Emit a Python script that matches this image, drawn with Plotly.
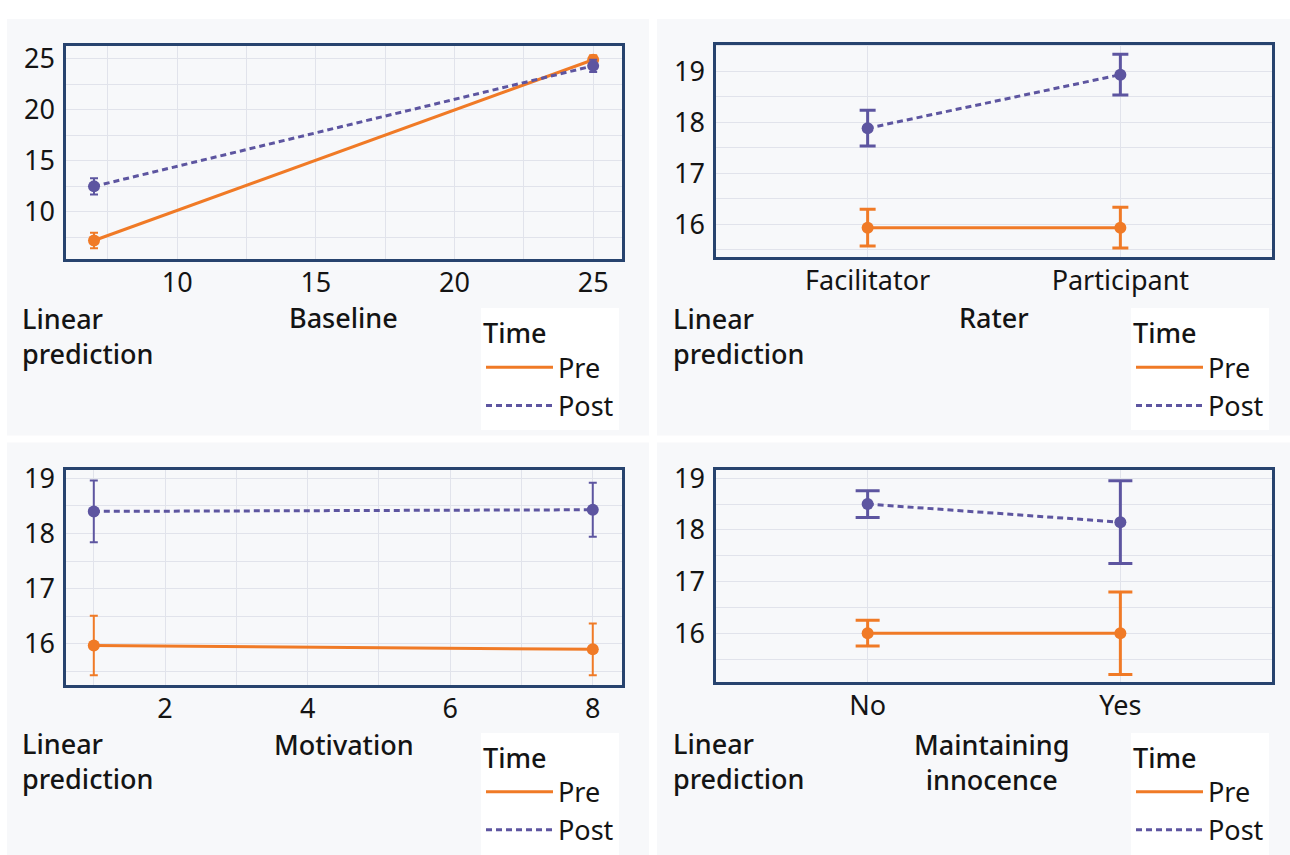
import plotly.graph_objects as go

# ---------------- data ----------------
time_labels = ["Pre", "Post"]

# Panel 1: Baseline
baseline_x = [7, 25]
baseline_pre = [7.2, 24.9]
baseline_pre_err = [0.75, 0.45]
baseline_post = [12.5, 24.3]
baseline_post_err = [0.8, 0.6]

# Panel 2: Rater
rater_x = ["Facilitator", "Participant"]
rater_pre = [15.93, 15.93]
rater_pre_err = [0.36, 0.40]
rater_post = [17.88, 18.93]
rater_post_err = [0.35, 0.40]

# Panel 3: Motivation
motiv_x = [1, 8]
motiv_pre = [15.97, 15.90]
motiv_pre_err = [0.54, 0.47]
motiv_post = [18.40, 18.43]
motiv_post_err = [0.56, 0.49]

# Panel 4: Maintaining innocence
innoc_x = ["No", "Yes"]
innoc_pre = [16.0, 16.0]
innoc_pre_err = [0.25, 0.80]
innoc_post = [18.50, 18.15]
innoc_post_err = [0.26, 0.80]

x_titles = ["Baseline", "Rater", "Motivation", "Maintaining<br>innocence"]
y_title = "Linear<br>prediction"
legend_title = "Time"

# ---------------- style ----------------
ORANGE = "#F07A26"
PURPLE = "#5D55A0"
NAVY = "#27436E"
GRID = "#E1E3EB"
PANEL_BG = "#F7F8FA"
TXT = "#141414"
FONT = "Noto Sans"
FS = 27

W, H = 1290, 855

def px(v):
    return v / W

def py(v):
    return 1 - v / H

fig = go.Figure()

panels = [
    dict(x=baseline_x, pre=baseline_pre, pre_e=baseline_pre_err, post=baseline_post, post_e=baseline_post_err,
         errw=4, errt=2, xr=[5.99, 26.04], yr=[5.41, 26.29], xdt=5, xminor=2.5, ydt=5, yminor=2.5, cat=False,
         dom_x=[66, 622], dom_y=[35, 251]),
    dict(x=rater_x, pre=rater_pre, pre_e=rater_pre_err, post=rater_post, post_e=rater_post_err,
         errw=8, errt=3, xr=[-0.6, 1.6], yr=[15.36, 19.52], xdt=None, xminor=None, ydt=1, yminor=0.5, cat=True,
         dom_x=[716, 1272], dom_y=[34, 249]),
    dict(x=motiv_x, pre=motiv_pre, pre_e=motiv_pre_err, post=motiv_post, post_e=motiv_post_err,
         errw=4, errt=2, xr=[0.61, 8.41], yr=[15.25, 19.15], xdt=2, xminor=1, ydt=1, yminor=0.5, cat=False,
         dom_x=[66, 622], dom_y=[465, 683]),
    dict(x=innoc_x, pre=innoc_pre, pre_e=innoc_pre_err, post=innoc_post, post_e=innoc_post_err,
         errw=12, errt=3, xr=[-0.6, 1.6], yr=[15.05, 19.16], xdt=None, xminor=None, ydt=1, yminor=0.5, cat=True,
         dom_x=[716, 1272], dom_y=[465, 680]),
]

# panel backgrounds (pixel boxes)
bgs = [(7, 8, 649, 430), (657, 8, 1290, 430), (7, 437, 649, 855), (657, 437, 1290, 855)]
for (x0, y0, x1, y1) in bgs:
    fig.add_shape(type="rect", xref="paper", yref="paper",
                  x0=px(x0), x1=px(x1), y0=py(y1), y1=py(y0),
                  fillcolor=PANEL_BG, line=dict(width=0), layer="below")

legend_pos = [(481, 301), (1131, 301), (481, 731), (1131, 731)]
title_pos = [(343.5, 310), (994, 310), (343.5, 743), (991, 761)]
ylab_pos = [(20, 291), (671, 291), (20, 721), (671, 721)]

for i, p in enumerate(panels):
    n = i + 1
    xa = "x" if n == 1 else f"x{n}"
    ya = "y" if n == 1 else f"y{n}"
    leg = "legend" if n == 1 else f"legend{n}"
    fig.add_trace(go.Scatter(x=p["x"], y=p["pre"], mode="lines", name=time_labels[0],
                             line=dict(color=ORANGE, width=3), xaxis=xa, yaxis=ya, legend=leg,
                             hoverinfo="skip"))
    fig.add_trace(go.Scatter(x=p["x"], y=p["post"], mode="lines", name=time_labels[1],
                             line=dict(color=PURPLE, width=3, dash="6px,4px"), xaxis=xa, yaxis=ya, legend=leg,
                             hoverinfo="skip"))
    fig.add_trace(go.Scatter(x=p["x"], y=p["pre"], mode="markers", showlegend=False,
                             marker=dict(color=ORANGE, size=12),
                             error_y=dict(type="data", array=p["pre_e"], color=ORANGE,
                                          thickness=p["errt"], width=p["errw"]),
                             xaxis=xa, yaxis=ya))
    fig.add_trace(go.Scatter(x=p["x"], y=p["post"], mode="markers", showlegend=False,
                             marker=dict(color=PURPLE, size=12),
                             error_y=dict(type="data", array=p["post_e"], color=PURPLE,
                                          thickness=p["errt"], width=p["errw"]),
                             xaxis=xa, yaxis=ya))

    xkey = "xaxis" if n == 1 else f"xaxis{n}"
    ykey = "yaxis" if n == 1 else f"yaxis{n}"
    xax = dict(domain=[px(p["dom_x"][0]), px(p["dom_x"][1])], anchor=ya, range=p["xr"],
               showgrid=True, gridcolor=GRID, gridwidth=1, zeroline=False,
               showline=True, linecolor=NAVY, linewidth=2.5, mirror=True,
               tickfont=dict(family=FONT, size=FS, color=TXT), ticklabelstandoff=-2)
    if p["cat"]:
        xax.update(type="category")
    else:
        xax.update(dtick=p["xdt"], tick0=0,
                   minor=dict(dtick=p["xminor"], tick0=0, showgrid=True, gridcolor=GRID, gridwidth=1))
    yax = dict(domain=[py(p["dom_y"][1]), py(p["dom_y"][0])], anchor=xa, range=p["yr"],
               dtick=p["ydt"], tick0=0,
               minor=dict(dtick=p["yminor"], tick0=0, showgrid=True, gridcolor=GRID, gridwidth=1),
               showgrid=True, gridcolor=GRID, gridwidth=1, zeroline=False,
               showline=True, linecolor=NAVY, linewidth=2.5, mirror=True,
               tickfont=dict(family=FONT, size=FS, color=TXT), ticklabelstandoff=3)
    fig.layout[xkey] = xax
    fig.layout[ykey] = yax

    lx, ly = legend_pos[i]
    fig.layout[leg] = dict(x=px(lx), y=py(ly), xanchor="left", yanchor="top", xref="paper", yref="paper",
                           bgcolor="white", borderwidth=0, itemwidth=67,
                           title=dict(text=legend_title, font=dict(family=FONT, size=FS, color=TXT, weight=500)),
                           font=dict(family=FONT, size=FS, color=TXT),
                           tracegroupgap=0)

    tx, ty = title_pos[i]
    fig.add_annotation(xref="paper", yref="paper", x=px(tx), y=py(ty), text=x_titles[i],
                       showarrow=False, xanchor="center", yanchor="middle", align="center",
                       font=dict(family=FONT, size=FS, color=TXT, weight=500))
    yx, yy = ylab_pos[i]
    fig.add_annotation(xref="paper", yref="paper", x=px(yx), y=py(yy), text=y_title,
                       showarrow=False, xanchor="left", yanchor="top", align="left",
                       font=dict(family=FONT, size=FS, color=TXT, weight=500))

fig.update_layout(width=W, height=H, margin=dict(l=0, r=0, t=0, b=0),
                  paper_bgcolor="white", plot_bgcolor=PANEL_BG,
                  font=dict(family=FONT, size=FS, color=TXT))

# remove the default 8px page margin so the figure fills the window exactly
fig.write_html("out.html", config={"displayModeBar": False},
               post_script="document.body.style.margin='0';")
